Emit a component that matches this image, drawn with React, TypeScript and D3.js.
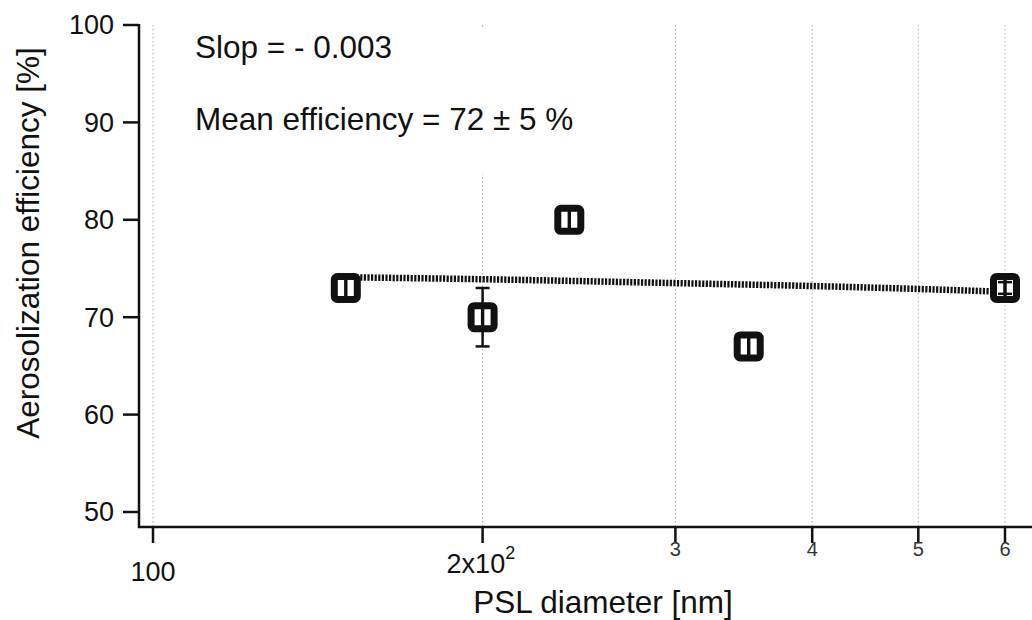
import React from 'react';
import * as d3 from 'd3';

// measured points (PSL diameter in nm, efficiency in %)
const diameters = [150, 200, 240, 350, 600];
const efficiencies = [73, 70, 80, 67, 73];
const errors = [0, 3, 0, 0, 0.6];

// linear fit drawn as a dotted line
const fitX = [150, 200, 300, 400, 500, 600];
const fitY = [74.1, 73.9, 73.5, 73.2, 72.9, 72.6];

const yTicks = [50, 60, 70, 80, 90, 100];
const xTicks = [100, 200, 300, 400, 500, 600];
const xMinorLabels = ['3', '4', '5', '6'];

const annotations = ['Slop = - 0.003', 'Mean efficiency = 72 \u00b1 5 %'];

const W = 1032;
const H = 620;
const font = '"Liberation Sans", Arial, sans-serif';
const ink = '#111';

export default function App() {
  const x = d3.scaleLog().domain([100, 600]).range([153, 1005]);
  const y = d3.scaleLinear().domain([50, 100]).range([512, 25]);

  const axisLeft = 139;
  const axisBottom = 527;
  const axisRight = W;
  const plotTop = y(100);

  const fitLine = d3
    .line<number>()
    .x((d) => x(d))
    .y((_, i) => y(fitY[i]))
    .curve(d3.curveMonotoneX);

  return (
    <svg width={W} height={H} style={{ position: 'absolute', left: 0, top: 0, background: '#fff' }} fontFamily={font}>
      {/* dotted grid */}
      {xTicks.map((t) => (
        <line key={'g' + t} x1={x(t)} x2={x(t)} y1={plotTop} y2={axisBottom}
          stroke="#aaa" strokeWidth={1} strokeDasharray="1.5 2.5" />
      ))}

      {/* white box behind the annotation */}
      <rect x={186} y={plotTop + 2} width={394} height={147} fill="#fff" />
      {annotations.map((a, i) => (
        <text key={a} x={195} y={58 + i * 72} fontSize={31.5} fill={ink}>{a}</text>
      ))}

      {/* fit line */}
      <path d={fitLine(fitX) || ''} fill="none" stroke={ink} strokeWidth={6.5} strokeDasharray="2.2 1.4" />

      {/* markers */}
      {diameters.map((d, i) => {
        const cx = x(d);
        const cy = y(efficiencies[i]);
        return (
          <g key={'m' + d}>
            <rect x={cx - 11.5} y={cy - 11.5} width={23} height={23} rx={3}
              fill="#fff" stroke={ink} strokeWidth={7} />
            <line x1={cx} x2={cx} y1={cy - 9} y2={cy + 9} stroke={ink} strokeWidth={3.4} />
          </g>
        );
      })}

      {/* error bars */}
      {diameters.map((d, i) => {
        if (!errors[i]) return null;
        const cx = x(d);
        const y1 = y(efficiencies[i] + errors[i]);
        const y2 = y(efficiencies[i] - errors[i]);
        return (
          <g key={'e' + d} stroke={ink} strokeWidth={2.5}>
            <line x1={cx} x2={cx} y1={y1} y2={y2} />
            <line x1={cx - 7} x2={cx + 7} y1={y1} y2={y1} />
            <line x1={cx - 7} x2={cx + 7} y1={y2} y2={y2} />
          </g>
        );
      })}

      {/* y axis */}
      <line x1={axisLeft} x2={axisLeft} y1={plotTop - 1} y2={axisBottom + 1} stroke={ink} strokeWidth={2.5} />
      {yTicks.map((t) => (
        <g key={'y' + t}>
          <line x1={axisLeft - 16} x2={axisLeft} y1={y(t)} y2={y(t)} stroke={ink} strokeWidth={2.5} />
          <text x={114} y={y(t)} dy="0.35em" textAnchor="end" fontSize={27} fill={ink}>{t}</text>
        </g>
      ))}

      {/* x axis */}
      <line x1={axisLeft - 1} x2={axisRight} y1={axisBottom} y2={axisBottom} stroke={ink} strokeWidth={2.5} />
      {xTicks.map((t) => (
        <line key={'x' + t} x1={x(t)} x2={x(t)} y1={axisBottom} y2={axisBottom + 16} stroke={ink} strokeWidth={2.5} />
      ))}
      <text x={x(100)} y={581} textAnchor="middle" fontSize={27} fill={ink}>100</text>
      <text x={x(200) - 36} y={573} fontSize={27} fill={ink}>
        2x10<tspan dy={-14} fontSize={18}>2</tspan>
      </text>
      {xMinorLabels.map((l, i) => (
        <text key={'xl' + l} x={x(xTicks[i + 2])} y={556} textAnchor="middle" fontSize={20} fill="#333">{l}</text>
      ))}

      {/* axis titles */}
      <text x={603} y={613} textAnchor="middle" fontSize={31.5} fill={ink}>PSL diameter [nm]</text>
      <text transform="translate(39,243) rotate(-90)" textAnchor="middle" fontSize={31.5} fill={ink}>
        Aerosolization efficiency [%]
      </text>
    </svg>
  );
}
